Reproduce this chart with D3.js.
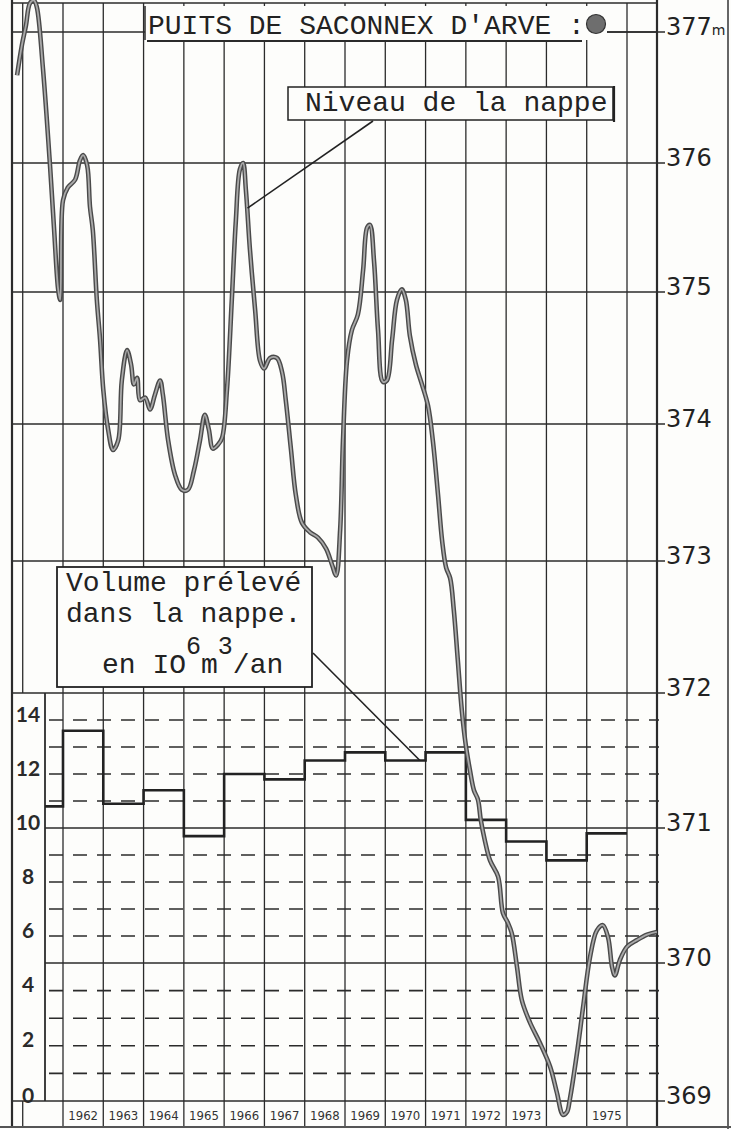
<!DOCTYPE html>
<html>
<head>
<meta charset="utf-8">
<script src="https://cdnjs.cloudflare.com/ajax/libs/d3/7.8.5/d3.min.js"></script>
<style>
  body { margin: 0; background: #fff; }
</style>
</head>
<body>
<div id="chart"></div>
<script>
// volume pumped (10^6 m3 / year), one step per year
var years = [1961, 1962, 1963, 1964, 1965, 1966, 1967, 1968, 1969, 1970, 1971, 1972, 1973, 1974, 1975];
var volumes = [10.8, 13.6, 10.9, 11.4, 9.7, 12.0, 11.8, 12.5, 12.8, 12.5, 12.8, 10.3, 9.5, 8.8, 9.8];

var yearLabels = ["1962", "1963", "1964", "1965", "1966", "1967", "1968", "1969", "1970", "1971", "1972", "1973", "", "1975"];
var levelTicks = [369, 370, 371, 372, 373, 374, 375, 376, 377];
var volumeTicks = [0, 2, 4, 6, 8, 10, 12, 14];

// groundwater level (m)
var levelDates = [1960.86, 1960.98, 1961.08, 1961.18, 1961.28, 1961.35, 1961.50, 1961.68, 1961.78, 1961.88,
  1961.93, 1962.00, 1962.12, 1962.30, 1962.42, 1962.50, 1962.60, 1962.67, 1962.74, 1962.84,
  1962.92, 1963.00, 1963.12, 1963.24, 1963.37, 1963.46, 1963.59, 1963.69, 1963.76, 1963.84,
  1963.91, 1964.04, 1964.16, 1964.28, 1964.41, 1964.48, 1964.61, 1964.78, 1964.95, 1965.10,
  1965.25, 1965.40, 1965.52, 1965.62, 1965.72, 1965.85, 1965.95, 1966.07, 1966.19, 1966.29,
  1966.39, 1966.47, 1966.54, 1966.64, 1966.77, 1966.89, 1966.99, 1967.14, 1967.31, 1967.44,
  1967.53, 1967.66, 1967.78, 1967.93, 1968.13, 1968.33, 1968.53, 1968.68, 1968.78, 1968.88,
  1968.95, 1969.05, 1969.17, 1969.32, 1969.45, 1969.55, 1969.62, 1969.72, 1969.82, 1969.94,
  1970.04, 1970.17, 1970.29, 1970.41, 1970.51, 1970.61, 1970.76, 1970.91, 1971.06, 1971.18,
  1971.31, 1971.41, 1971.51, 1971.61, 1971.70, 1971.80, 1971.90, 1972.00, 1972.10, 1972.20,
  1972.30, 1972.37, 1972.47, 1972.60, 1972.80, 1972.92, 1973.04, 1973.14, 1973.27, 1973.39,
  1973.59, 1973.84, 1974.09, 1974.26, 1974.41, 1974.51, 1974.58, 1974.76, 1974.91, 1975.08,
  1975.25, 1975.40, 1975.53, 1975.63, 1975.70, 1975.82, 1976.00, 1976.25, 1976.50, 1976.74];
var levelValues = [376.67, 376.90, 377.05, 377.22, 377.24, 377.19, 376.73, 375.97, 375.48, 375.02,
  374.94, 375.71, 375.81, 375.87, 376.02, 376.06, 375.98, 375.66, 375.48, 374.94,
  374.64, 374.26, 373.96, 373.81, 373.88, 374.33, 374.56, 374.45, 374.30, 374.35,
  374.18, 374.20, 374.11, 374.22, 374.33, 374.22, 373.88, 373.63, 373.52, 373.52,
  373.66, 373.88, 374.07, 373.96, 373.82, 373.85, 373.90, 374.26, 374.94, 375.55,
  375.95, 376.00, 375.79, 375.33, 374.86, 374.48, 374.42, 374.50, 374.50, 374.39,
  374.18, 373.81, 373.48, 373.28, 373.21, 373.17, 373.09, 372.97, 372.89, 373.23,
  373.88, 374.48, 374.71, 374.83, 375.17, 375.50, 375.52, 375.24, 374.71, 374.32,
  374.33, 374.64, 374.94, 375.02, 374.94, 374.67, 374.45, 374.30, 374.14, 373.88,
  373.48, 373.15, 372.95, 372.87, 372.63, 372.25, 371.87, 371.61, 371.43, 371.28,
  371.21, 371.06, 370.91, 370.76, 370.64, 370.37, 370.30, 370.22, 369.97, 369.73,
  369.57, 369.42, 369.25, 369.06, 368.90, 368.92, 369.01, 369.35, 369.68, 370.04,
  370.24, 370.28, 370.19, 369.97, 369.91, 370.02, 370.12, 370.17, 370.21, 370.23];

var W = 731, H = 1129;
var frameLeft = 12, boxRight = 45, plotRight = 657, tickEnd = 665, bottom = 1127;
var ink = "#2b2b2b";

var svg = d3.select("#chart").append("svg")
    .attr("width", W)
    .attr("height", H)
    .style("display", "block");

svg.append("rect").attr("width", W).attr("height", H).attr("fill", "#fdfdfb");

var x = d3.scaleLinear().domain([1962, 1976]).range([63, 627]);
// the paper grid is hand ruled, so the metre lines are not evenly spaced
var yL = d3.scaleLinear()
    .domain(levelTicks)
    .range([1101, 963, 828, 693, 561, 424, 292, 163, 32]);
var yV = d3.scaleLinear()
    .domain([0, 5, 10, 15])
    .range([yL(369), yL(370), yL(371), yL(372)]);

var grid = svg.append("g").attr("stroke", ink).attr("fill", "none");

// year columns
grid.selectAll("line.yr")
    .data(d3.range(1962, 1977))
  .enter().append("line")
    .attr("class", "yr")
    .attr("x1", function(d) { return x(d); })
    .attr("x2", function(d) { return x(d); })
    .attr("y1", 3)
    .attr("y2", bottom)
    .attr("stroke-width", 1.3);
grid.append("line")
    .attr("x1", x(1961)).attr("x2", x(1961))
    .attr("y1", 3).attr("y2", yL(372))
    .attr("stroke-width", 1.3);
grid.append("line")
    .attr("x1", x(1961)).attr("x2", x(1961))
    .attr("y1", yL(369)).attr("y2", bottom)
    .attr("stroke-width", 1.3);

// metre lines
grid.selectAll("line.lv")
    .data(levelTicks)
  .enter().append("line")
    .attr("class", "lv")
    .attr("x1", function(d) { return (d >= 372 || d == 369) ? frameLeft : boxRight; })
    .attr("x2", tickEnd)
    .attr("y1", function(d) { return yL(d); })
    .attr("y2", function(d) { return yL(d); })
    .attr("stroke-width", 1.5);

// dashed volume lines
grid.selectAll("line.vd")
    .data(d3.range(1, 15).filter(function(v) { return v % 5 != 0; }))
  .enter().append("line")
    .attr("class", "vd")
    .attr("x1", boxRight + 4)
    .attr("x2", plotRight + 2)
    .attr("y1", function(d) { return yV(d); })
    .attr("y2", function(d) { return yV(d); })
    .attr("stroke-width", 1.6)
    .attr("stroke-dasharray", "14,10");

// frame
grid.append("line").attr("x1", frameLeft).attr("x2", frameLeft).attr("y1", 0).attr("y2", bottom).attr("stroke-width", 2.2);
grid.append("line").attr("x1", boxRight).attr("x2", boxRight).attr("y1", yL(372)).attr("y2", yL(369)).attr("stroke-width", 1.8);
grid.append("line").attr("x1", plotRight).attr("x2", plotRight).attr("y1", 0).attr("y2", bottom).attr("stroke-width", 2.2);
grid.append("line").attr("x1", 728).attr("x2", 728).attr("y1", 0).attr("y2", H).attr("stroke-width", 2).attr("stroke", "#666");
grid.append("line").attr("x1", 0).attr("x2", W).attr("y1", bottom).attr("y2", bottom).attr("stroke-width", 2).attr("stroke", "#555");
grid.append("line").attr("x1", frameLeft).attr("x2", plotRight).attr("y1", 3).attr("y2", 3).attr("stroke-width", 1.5);

// right axis labels
svg.append("g").selectAll("text")
    .data(levelTicks)
  .enter().append("text")
    .attr("x", tickEnd + 1)
    .attr("y", function(d) { return yL(d) + 3; })
    .attr("font-family", "DejaVu Sans")
    .attr("font-size", 24)
    .attr("fill", "#222")
    .text(function(d) { return d; })
  .filter(function(d) { return d == 377; })
    .append("tspan")
    .attr("font-size", 14)
    .text("m");

// left axis labels
svg.append("g").selectAll("text")
    .data(volumeTicks)
  .enter().append("text")
    .attr("x", frameLeft + 16)
    .attr("y", function(d) { return yV(d) - 7; })
    .attr("text-anchor", "middle")
    .attr("dominant-baseline", "central")
    .attr("font-family", "Lato")
    .attr("font-weight", "bold")
    .attr("font-size", 21)
    .attr("fill", "#2a2a2a")
    .text(function(d) { return d; });

// year labels
svg.append("g").selectAll("text")
    .data(yearLabels)
  .enter().append("text")
    .attr("x", function(d, i) { return x(1962 + i + 0.5); })
    .attr("y", (yL(369) + bottom) / 2 + 1)
    .attr("text-anchor", "middle")
    .attr("dominant-baseline", "central")
    .attr("font-family", "DejaVu Sans Condensed")
    .attr("font-size", 13)
    .attr("fill", "#333")
    .text(function(d) { return d; });

// pumped volume steps
svg.append("clipPath").attr("id", "volclip")
  .append("rect")
    .attr("x", boxRight).attr("y", 0)
    .attr("width", plotRight - boxRight).attr("height", H);

var stepData = years.map(function(d, i) { return [d, volumes[i]]; });
stepData.push([years[years.length - 1] + 1, volumes[volumes.length - 1]]);

svg.append("path")
    .datum(stepData)
    .attr("clip-path", "url(#volclip)")
    .attr("fill", "none")
    .attr("stroke", "#222")
    .attr("stroke-width", 2.6)
    .attr("d", d3.line()
        .curve(d3.curveStepAfter)
        .x(function(d) { return x(d[0]); })
        .y(function(d) { return yV(d[1]); }));

// groundwater level curve (grey band with dark edges)
var levelData = levelDates.map(function(d, i) { return [d, levelValues[i]]; });
var levelLine = d3.line()
    .curve(d3.curveCatmullRom.alpha(0.5))
    .x(function(d) { return x(d[0]); })
    .y(function(d) { return yL(d[1]); });

svg.append("path")
    .datum(levelData)
    .attr("fill", "none")
    .attr("stroke", "#4a4a4a")
    .attr("stroke-width", 4.6)
    .attr("stroke-linejoin", "round")
    .attr("d", levelLine);
svg.append("path")
    .datum(levelData)
    .attr("fill", "none")
    .attr("stroke", "#a9a9a9")
    .attr("stroke-width", 1.8)
    .attr("stroke-linejoin", "round")
    .attr("d", levelLine);

// title
var title = svg.append("g");
title.append("rect")
    .attr("x", 145).attr("y", 6)
    .attr("width", 462).attr("height", 34)
    .attr("fill", "#fdfdfb");
title.append("line").attr("x1", 145).attr("x2", 145).attr("y1", 6).attr("y2", 40).attr("stroke", ink).attr("stroke-width", 1.5);
title.append("line").attr("x1", 147).attr("x2", 582).attr("y1", 41).attr("y2", 41).attr("stroke", ink).attr("stroke-width", 2);
title.append("line").attr("x1", 607).attr("x2", plotRight).attr("y1", yL(377)).attr("y2", yL(377)).attr("stroke", ink).attr("stroke-width", 1.5);
title.append("text")
    .attr("x", 148).attr("y", 34)
    .attr("font-family", "Liberation Mono")
    .attr("font-size", 28)
    .attr("fill", "#222")
    .text("PUITS DE SACONNEX D'ARVE :");
title.append("circle")
    .attr("cx", 596).attr("cy", 24).attr("r", 9.5)
    .attr("fill", "#6e6e6e").attr("stroke", "#333").attr("stroke-width", 1.2);

// "Niveau de la nappe" callout
var nb = svg.append("g");
nb.append("line")
    .attr("x1", 373).attr("y1", 121)
    .attr("x2", x(1966.58)).attr("y2", yL(375.65))
    .attr("stroke", "#222").attr("stroke-width", 1.6);
nb.append("rect")
    .attr("x", 288).attr("y", 87)
    .attr("width", 325).attr("height", 33)
    .attr("fill", "#fdfdfb").attr("stroke", "#222").attr("stroke-width", 1.5);
nb.append("line").attr("x1", 614).attr("x2", 614).attr("y1", 86).attr("y2", 122).attr("stroke", "#222").attr("stroke-width", 2.2);
nb.append("text")
    .attr("x", 305).attr("y", 111)
    .attr("font-family", "Liberation Mono")
    .attr("font-size", 28)
    .attr("fill", "#222")
    .text("Niveau de la nappe");

// "Volume prélevé" callout
var vb = svg.append("g");
vb.append("line")
    .attr("x1", 313).attr("y1", 653)
    .attr("x2", x(1970.86)).attr("y2", yV(12.5))
    .attr("stroke", "#222").attr("stroke-width", 1.6);
vb.append("rect")
    .attr("x", 57).attr("y", 567)
    .attr("width", 255).attr("height", 120)
    .attr("fill", "#fdfdfb").attr("stroke", "#222").attr("stroke-width", 1.8);
var vt = vb.append("g")
    .attr("font-family", "Liberation Mono")
    .attr("font-size", 28)
    .attr("fill", "#222");
vt.append("text").attr("x", 66).attr("y", 591).text("Volume prélevé");
vt.append("text").attr("x", 66).attr("y", 622).text("dans la nappe.");
var unit = vt.append("text").attr("x", 102).attr("y", 673);
unit.append("tspan").text("en IO");
unit.append("tspan").attr("dy", -19).attr("font-size", 25).text("6");
unit.append("tspan").attr("dy", 19).text("m");
unit.append("tspan").attr("dy", -19).attr("font-size", 25).text("3");
unit.append("tspan").attr("dy", 19).text("/an");
</script>
</body>
</html>
